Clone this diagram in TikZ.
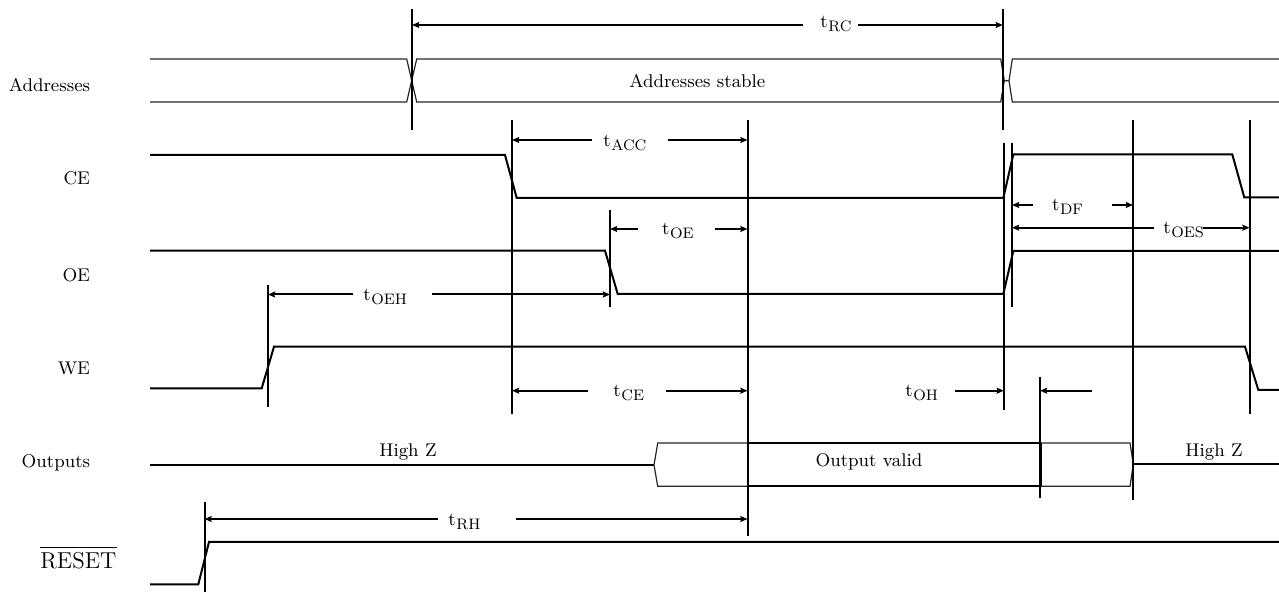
\documentclass[tikz,border=0pt]{standalone}
\usetikzlibrary{arrows.meta}
\newcommand{\tsub}[1]{t\kern0.3pt\raisebox{-2pt}{\fontsize{7.6}{9}\selectfont #1}}
\begin{document}
\begin{tikzpicture}[x=0.5pt,y=-0.5pt,
  sig/.style={line width=1pt,line join=miter},
  bus/.style={line width=0.6pt,draw=black!85},
  tline/.style={line width=1pt},
  dim/.style={line width=1pt,-{Stealth[length=3.6pt,width=3pt,inset=0.6pt]}},
  lab/.style={font=\fontsize{9.2}{11}\selectfont,inner sep=0pt},
  tlab/.style={lab,anchor=base west}]
\useasboundingbox (0,0) rectangle (1279,592);

% ---- signal names
\node[lab,anchor=base east] (nAddr) at (90.5,92) {Addresses};
\node[lab,anchor=base east] (nCE) at (90.5,185) {CE};
\node[lab,anchor=base east] (nOE) at (90.5,281.5) {OE};
\node[lab,anchor=base east] (nWE) at (90.5,375) {WE};
\node[lab,anchor=base east] (nOut) at (90.5,467.5) {Outputs};
\node[lab,font=\fontsize{11.5}{13}\selectfont,anchor=base west] (nRst) at (40,568) {RESET};
\draw[line width=0.55pt] (40,547.7) -- (117,547.7);

% ---- Addresses bus
\draw[bus] (150,59)--(406.7,59)--(416.7,102)--(1000.7,102)--(1004.3,80.7)--(1009,80.7)--(1012.3,59)--(1279,59);
\draw[bus] (150,102)--(406.7,102)--(416.7,59)--(1000.7,59)--(1004.3,80.7);
\draw[bus] (1009,80.7)--(1012.3,102)--(1279,102);
\node[lab,anchor=base west] (stable) at (629,88) {Addresses stable};

% ---- CE, OE, WE, RESET
\draw[sig] (150,155)--(505,155)--(516.7,198)--(1003.3,198)--(1013.3,154.5)--(1232.3,154.5)--(1244.3,197.5)--(1279,197.5);
\draw[sig] (150,250.7)--(605,250.7)--(617.7,294)--(1003.3,294)--(1013.3,251)--(1279,251);
\draw[sig] (150,388.3)--(261.7,388.3)--(274,346.7)--(1245,346.7)--(1258.3,390)--(1279,390);
\draw[sig] (150,584.3)--(198.3,584.3)--(209,542)--(1279,542);

% ---- Outputs
\draw[sig] (150,465)--(654,465);
\draw[bus] (747.5,443)--(657.7,443)--(654,465)--(657.7,486.3)--(747.5,486.3);
\draw[sig] (747.5,443)--(1040,443);
\draw[sig] (747.5,486.3)--(1040,486.3);
\draw[bus] (1040,443)--(1130,443)--(1133.3,464.5)--(1130,486.3)--(1040,486.3);
\draw[sig] (1133.3,464.5)--(1279,464.5);
\draw[line width=1pt] (1041.2,443)--(1041.2,486.3);
\node[lab,anchor=base east] (hz1) at (437,457) {High Z};
\node[lab,anchor=base west] (hz2) at (1185,456.7) {High Z};
\node[lab,anchor=base east] (valid) at (922.7,467) {Output valid};

% ---- timing reference lines
\draw[tline] (412,9)--(412,130);
\draw[tline] (1002.8,9)--(1002.8,130);
\draw[tline] (512,120)--(512,414);
\draw[tline] (747.5,120)--(747.5,536);
\draw[tline] (610,210)--(610,307);
\draw[tline] (268,285)--(268,407);
\draw[tline] (1003.8,143)--(1003.8,410);
\draw[tline] (1012,143)--(1012,307);
\draw[tline] (1133,120)--(1133,500);
\draw[tline] (1249.5,120)--(1249.5,414);
\draw[tline] (1040,377)--(1040,498);
\draw[tline] (204.5,502)--(204.5,592);

% ---- timing parameters
\draw[dim] (802.7,25)--(412,25);
\draw[dim] (858.3,25)--(1002.8,25);
\node[tlab] (tRC) at (820,28) {\tsub{RC}};

\draw[dim] (591.7,140)--(512,140);
\draw[dim] (668,140)--(747.5,140);
\node[tlab] (tACC) at (603,147) {\tsub{ACC}};

\draw[dim] (638.3,229)--(610,229);
\draw[dim] (715,229)--(747.5,229);
\node[tlab] (tOE) at (661.7,235) {\tsub{OE}};

\draw[dim] (353.3,294.5)--(268,294.5);
\draw[dim] (431.7,294.5)--(610,294.5);
\node[tlab] (tOEH) at (363,300.5) {\tsub{OEH}};

\draw[dim] (1033,205)--(1012,205);
\draw[dim] (1112,205)--(1133,205);
\node[tlab] (tDF) at (1051.7,211) {\tsub{DF}};

\draw[dim] (1154,227.7)--(1012,227.7);
\draw[dim] (1203,227.7)--(1249.5,227.7);
\node[tlab] (tOES) at (1163,233.5) {\tsub{OES}};

\draw[dim] (588.3,390.7)--(512,390.7);
\draw[dim] (666,390.7)--(747.5,390.7);
\node[tlab] (tCE) at (613,396.5) {\tsub{CE}};

\draw[dim] (955,390.7)--(1003.8,390.7);
\draw[dim] (1091.7,390.7)--(1040,390.7);
\node[tlab] (tOH) at (905,397) {\tsub{OH}};

\draw[dim] (438,519)--(204.5,519);
\draw[dim] (516,519)--(747.5,519);
\node[tlab] (tRH) at (448,525) {\tsub{RH}};
\end{tikzpicture}
\end{document}
